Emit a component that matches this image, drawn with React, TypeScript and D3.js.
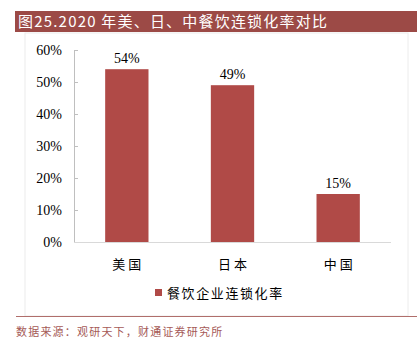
import React, { useEffect, useRef } from 'react';
import * as d3 from 'd3';

const categories = ['美国', '日本', '中国'];
const values = [54, 49, 15];
const yTicks = [0, 10, 20, 30, 40, 50, 60];
const seriesName = '餐饮企业连锁化率';
const title = '图25.2020 年美、日、中餐饮连锁化率对比';
const source = '数据来源：观研天下，财通证券研究所';

const App = () => {
    const svgRef = useRef<SVGSVGElement | null>(null);

    useEffect(() => {
        const width = 417;
        const height = 351;
        const margin = { top: 50, right: 26, bottom: 109, left: 74 };
        const innerWidth = width - margin.left - margin.right;
        const innerHeight = height - margin.top - margin.bottom;
        const barColor = '#b04a47';
        const serif = '"Liberation Serif", "Times New Roman", serif';
        const cjk = '"Noto Sans CJK SC", sans-serif';

        const svg = d3.select(svgRef.current);
        svg.selectAll('*').remove();
        svg.attr('width', width).attr('height', height);

        svg.append('rect').attr('width', width).attr('height', height).attr('fill', '#fff');

        // title bar
        svg.append('rect')
            .attr('x', 15).attr('y', 11)
            .attr('width', width - 15).attr('height', 21)
            .attr('fill', '#9c4a46');
        svg.append('text')
            .attr('x', 18).attr('y', 27)
            .attr('fill', '#fff')
            .style('font-family', cjk)
            .style('font-size', '15px')
            .style('letter-spacing', '1.2px')
            .text(title);

        // faint chart area border
        svg.append('rect')
            .attr('x', 25).attr('y', 33)
            .attr('width', 383).attr('height', 283)
            .attr('fill', 'none')
            .attr('stroke', '#ececec')
            .attr('stroke-width', 1);

        const g = svg.append('g')
            .attr('transform', `translate(${margin.left},${margin.top})`);

        const xScale = d3.scaleBand()
            .domain(categories)
            .range([0, innerWidth])
            .paddingInner(0.59)
            .paddingOuter(0.295);

        const yScale = d3.scaleLinear()
            .domain([0, 60])
            .range([innerHeight, 0]);

        // y axis
        const yAxis = g.append('g')
            .call(d3.axisRight(yScale).tickValues(yTicks).tickSize(4).tickFormat(d => `${d}%`));
        yAxis.select('.domain').attr('stroke', '#bfbfbf').attr('d', `M4,0.5H0.5V${innerHeight}`);
        yAxis.selectAll('.tick line').attr('stroke', '#bfbfbf');
        yAxis.selectAll('.tick text')
            .attr('x', -12)
            .attr('text-anchor', 'end')
            .attr('fill', '#000')
            .style('font-family', serif)
            .style('font-size', '14px');

        // baseline
        g.append('line')
            .attr('x1', 0).attr('x2', innerWidth)
            .attr('y1', innerHeight + 0.5).attr('y2', innerHeight + 0.5)
            .attr('stroke', '#d9d9d9');

        // bars
        g.selectAll('rect.bar')
            .data(values)
            .enter()
            .append('rect')
            .attr('class', 'bar')
            .attr('x', (d, i) => xScale(categories[i]) as number)
            .attr('y', d => yScale(d))
            .attr('width', xScale.bandwidth())
            .attr('height', d => innerHeight - yScale(d))
            .attr('fill', barColor);

        // value labels
        g.selectAll('text.val')
            .data(values)
            .enter()
            .append('text')
            .attr('class', 'val')
            .attr('x', (d, i) => (xScale(categories[i]) as number) + xScale.bandwidth() / 2)
            .attr('y', d => yScale(d) - 6)
            .attr('text-anchor', 'middle')
            .style('font-family', serif)
            .style('font-size', '14px')
            .text(d => `${d}%`);

        // category labels
        g.selectAll('text.cat')
            .data(categories)
            .enter()
            .append('text')
            .attr('class', 'cat')
            .attr('x', d => (xScale(d) as number) + xScale.bandwidth() / 2 + 1.5)
            .attr('y', innerHeight + 27)
            .attr('text-anchor', 'middle')
            .style('font-family', cjk)
            .style('font-size', '13px')
            .style('letter-spacing', '3px')
            .text(d => d);

        // legend
        svg.append('rect')
            .attr('x', 155).attr('y', 289)
            .attr('width', 7).attr('height', 7)
            .attr('fill', barColor);
        svg.append('text')
            .attr('x', 167).attr('y', 298)
            .style('font-family', cjk)
            .style('font-size', '13px')
            .style('letter-spacing', '1.6px')
            .text(seriesName);

        // footer
        svg.append('line')
            .attr('x1', 16).attr('x2', width)
            .attr('y1', 316.5).attr('y2', 316.5)
            .attr('stroke', '#b06e6b');
        svg.append('text')
            .attr('x', 16).attr('y', 336)
            .attr('fill', '#a55a57')
            .style('font-family', cjk)
            .style('font-size', '11px')
            .style('letter-spacing', '1.2px')
            .text(source);
    }, []);

    return (
        <div style={{ position: 'absolute', left: 0, top: 0 }}>
            <svg ref={svgRef}></svg>
        </div>
    );
};

export default App;
